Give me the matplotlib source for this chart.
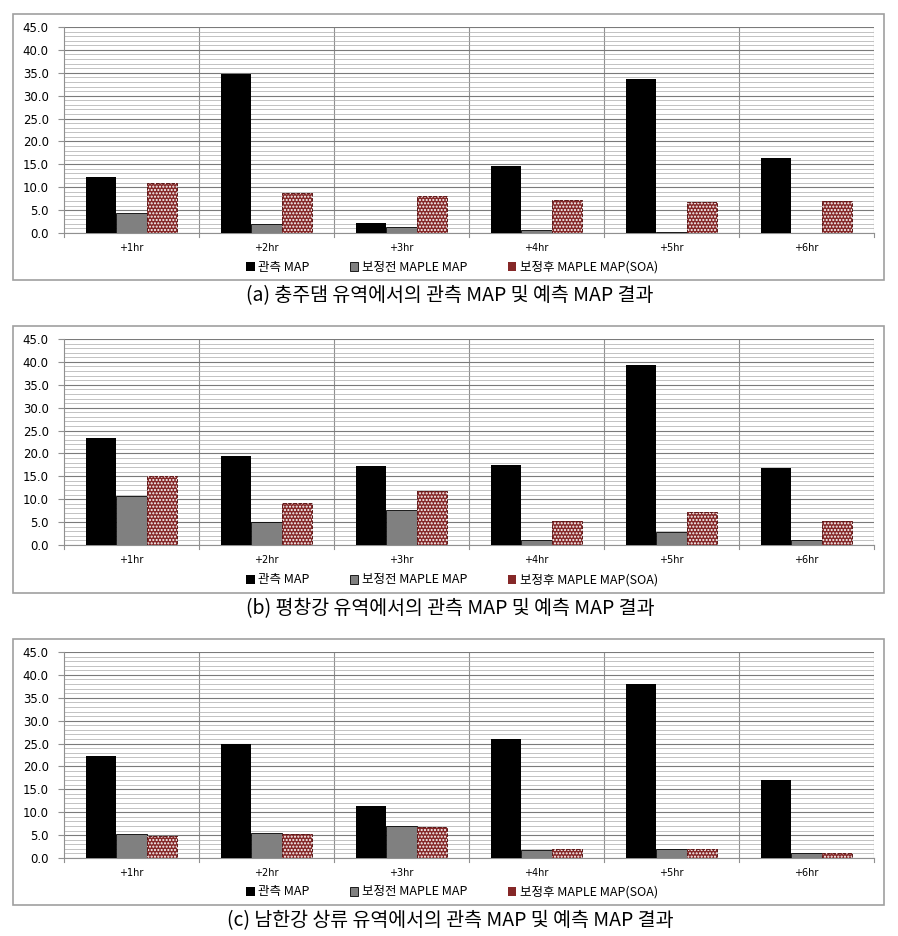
import numpy as np
import matplotlib
matplotlib.use('Agg')
import matplotlib.pyplot as plt
from matplotlib.patches import Rectangle

plt.rcParams['font.family'] = ['Noto Sans CJK KR', 'DejaVu Sans']

# data
categories = ['+1hr', '+2hr', '+3hr', '+4hr', '+5hr', '+6hr']
series_names = ['관측 MAP', '보정전 MAPLE MAP', '보정후 MAPLE MAP(SOA)']

obs_a = [12.2, 34.7, 2.2, 14.7, 33.6, 16.4]
pre_a = [4.3, 2.0, 1.3, 0.7, 0.2, 0.1]
post_a = [10.9, 8.7, 8.0, 7.1, 6.8, 7.0]

obs_b = [23.4, 19.5, 17.2, 17.4, 39.4, 16.8]
pre_b = [10.8, 5.0, 7.7, 1.0, 2.8, 1.2]
post_b = [15.1, 9.1, 11.9, 5.3, 7.1, 5.3]

obs_c = [22.3, 24.8, 11.4, 25.9, 38.1, 17.0]
pre_c = [5.3, 5.5, 7.0, 1.7, 1.9, 1.1]
post_c = [4.9, 5.2, 6.8, 1.9, 1.9, 1.0]

captions = ['(a) 충주댐 유역에서의 관측 MAP 및 예측 MAP 결과',
            '(b) 평창강 유역에서의 관측 MAP 및 예측 MAP 결과',
            '(c) 남한강 상류 유역에서의 관측 MAP 및 예측 MAP 결과']

W, H = 898, 936
fig = plt.figure(figsize=(W / 100, H / 100), dpi=100)

# pixel layout: (frame top, frame bottom, axes top, axes bottom, caption y)
panels = [
    (obs_a, pre_a, post_a, 14, 280, 27, 233, 296),
    (obs_b, pre_b, post_b, 326, 593, 339, 545, 609),
    (obs_c, pre_c, post_c, 639, 905, 652, 858, 921),
]

ax_l, ax_r = 64, 874
red = '#852828'
bw = 0.225

for k, (obs, pre, post, ft, fb, at, ab, cy) in enumerate(panels):
    # outer chart frame
    fig.patches.append(Rectangle((13 / W, 1 - fb / H), (884 - 13) / W, (fb - ft) / H,
                                 transform=fig.transFigure, fill=False,
                                 edgecolor='#a0a0a0', linewidth=1.2))
    ax = fig.add_axes([ax_l / W, 1 - ab / H, (ax_r - ax_l) / W, (ab - at) / H])
    x = np.arange(len(categories))

    ax.bar(x - bw, obs, bw, color='black', zorder=3, label=series_names[0])
    ax.bar(x, pre, bw, color='#808080', edgecolor='black', linewidth=0.6, zorder=3,
           label=series_names[1])
    ax.bar(x + bw, post, bw, color=red, zorder=3, label=series_names[2])
    ax.bar(x + bw, post, bw, color='none', edgecolor='white', hatch='.....',
           linewidth=0, zorder=4)
    ax.bar(x + bw, post, bw, color='none', edgecolor='#5a1a1a', linestyle='--',
           linewidth=0.7, zorder=5)

    ax.set_xlim(-0.5, 5.5)
    ax.set_ylim(0, 45)
    ax.set_yticks(np.arange(0, 46, 5))
    ax.set_yticklabels(['%.1f' % v for v in np.arange(0, 46, 5)], fontsize=8.5,
                       family=['DejaVu Sans'])
    ax.set_yticks(np.arange(0, 46, 1), minor=True)
    ax.set_xticks(x)
    ax.set_xticklabels(categories, fontsize=7, family=['DejaVu Sans'])
    ax.tick_params(axis='x', length=0, pad=7)
    ax.tick_params(axis='y', which='major', length=4, color='#909090', pad=7)
    ax.tick_params(axis='y', which='minor', length=0)

    ax.grid(axis='y', which='major', color='#7a7a7a', linewidth=0.8, zorder=0)
    ax.grid(axis='y', which='minor', color='#aaaaaa', linewidth=0.5, zorder=0)
    for b in np.arange(0.5, 5.6, 1.0):
        ax.axvline(b, color='#909090', linewidth=0.8, zorder=1)
    for b in np.arange(-0.5, 5.6, 1.0):
        ax.plot([b, b], [0, -0.9], color='#909090', linewidth=0.8, clip_on=False)

    for s in ['top', 'right']:
        ax.spines[s].set_visible(False)
    ax.spines['left'].set_color('#909090')
    ax.spines['bottom'].set_color('#909090')

    h, l = ax.get_legend_handles_labels()
    fig.legend(h, l, loc='center', bbox_to_anchor=(452 / W, 1 - (fb - 13) / H),
               ncol=3, frameon=False, fontsize=9, handlelength=0.7,
               handleheight=0.7, handletextpad=0.3, columnspacing=3.2)

    fig.text(450 / W, 1 - cy / H, captions[k], ha='center', va='center', fontsize=14)

fig.savefig('out.png', dpi=100)
